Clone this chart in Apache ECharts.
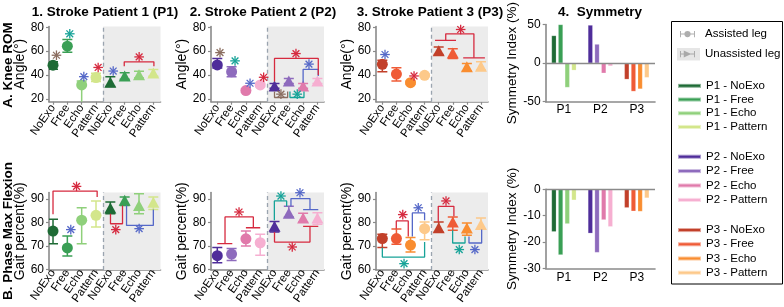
<!DOCTYPE html>
<html><head><meta charset="utf-8">
<script src="https://cdn.jsdelivr.net/npm/echarts@6/dist/echarts.min.js"></script>
<style>html,body{margin:0;padding:0;background:#fff}#c{width:784px;height:307px}</style>
</head><body><div id="c"></div>
<script>
// ---------- DATA ----------
const xLabels = ['NoExo','Free','Echo','Pattern','NoExo','Free','Echo','Pattern'];
const xPositions = [1,2,3,4,5,6,7,8];
const conditionSplit = 4.5;           // assisted | unassisted boundary
const patients = ['P1','P2','P3'];
const conditions = ['NoExo','Free','Echo','Pattern'];
const romTicks = [20,40,60,80];
const phaseTicks = [60,70,80,90];

// Knee ROM (deg): first 4 = assisted leg, last 4 = unassisted leg
const romP1Mean = [48.3, 64.2, 31.8, 38.0, 34.0, 39.3, 40.4, 41.8];
const romP1Low  = [44.8, 59.0, 10.0, 34.6, 30.4, 36.6, 37.6, 39.0];
const romP1High = [51.1, 69.8, 35.1, 41.5, 38.7, 42.0, 43.2, 44.6];
const romP2Mean = [48.5, 42.8, 27.1, 31.8, 31.0, 35.1, 31.0, 35.1];
const romP2Low  = [46.0, 38.7, 25.6, 30.3, 29.0, 33.0, 29.0, 33.0];
const romP2High = [53.9, 47.0, 28.6, 33.3, 33.0, 37.2, 33.0, 37.2];
const romP3Mean = [49.0, 40.9, 33.7, 39.8, 60.3, 58.5, 47.0, 47.5];
const romP3Low  = [42.8, 35.1, 32.5, 38.6, 57.2, 53.9, 43.7, 44.2];
const romP3High = [52.5, 46.1, 34.9, 41.0, 63.5, 62.1, 49.8, 51.1];

// Phase of max flexion (% gait)
const phP1Mean = [76.3, 69.1, 80.9, 83.0, 86.1, 89.4, 87.2, 88.6];
const phP1Low  = [70.9, 65.7, 70.9, 78.0, 83.7, 87.2, 83.7, 85.5];
const phP1High = [81.3, 74.2, 86.2, 89.1, 88.7, 90.8, 92.2, 90.8];
const phP2Mean = [65.8, 66.5, 73.0, 71.3, 78.3, 83.9, 81.8, 81.8];
const phP2Low  = [62.8, 63.7, 69.9, 66.0, 75.9, 82.3, 80.1, 79.2];
const phP2High = [69.3, 68.9, 76.3, 74.9, 80.4, 86.8, 83.9, 84.1];
const phP3Mean = [73.1, 73.1, 70.3, 77.3, 77.7, 80.1, 77.6, 79.1];
const phP3Low  = [69.3, 70.7, 67.4, 72.6, 75.9, 76.6, 74.5, 77.3];
const phP3High = [74.9, 77.2, 73.5, 80.1, 80.1, 82.3, 79.7, 81.8];

// Significance stars [x, y, colour] and brackets [colour, points]
const romP1Stars = [[1.24,56.6,'brown'],[2.17,74.5,'teal'],[3.15,38.7,'blue'],[4.15,46.4,'red'],[5.2,43.4,'blue'],[7.01,55.2,'red']];
const romP1Brackets = [['red',[[5.97,47.5],[5.97,51.1],[8.04,51.1],[8.04,47.5]]]];
const romP2Stars = [[1.19,58.8,'brown'],[2.24,51.9,'teal'],[3.29,33.2,'blue'],[4.24,38.2,'red'],[5.45,24.1,'brown'],[6.59,24.1,'teal'],[7.41,49.2,'blue'],[6.5,58,'red']];
const romP2Brackets = [
  ['brown',[[5,26.3],[5,21.3],[5.92,21.3],[5.92,26.3]]],
  ['teal',[[6.08,26.3],[6.08,21.3],[7.06,21.3],[7.06,26.3]]],
  ['blue',[[7,33.7],[7,44.8],[8.06,44.8],[8.06,39.3]]],
  ['red',[[5,34.6],[5,53.9],[8.06,53.9],[8.06,40]]]
];
const romP3Stars = [[1.19,57.2,'blue'],[3.25,39.3,'red'],[6.56,78.1,'red']];
const romP3Brackets = [
  ['red',[[4.74,69],[6.23,69]]],
  ['red',[[6.74,54.4],[8.28,54.4]]],
  ['red',[[5.5,69],[5.5,74.5],[7.5,74.5],[7.5,54.4]]]
];
const phP1Stars = [[2.64,95.3,'red'],[2.24,76.9,'blue'],[5.38,76.9,'red'],[7.01,77.3,'blue']];
const phP1Brackets = [
  ['red',[[1,83.4],[1,93.3],[4.08,93.3],[4.08,90.8]]],
  ['red',[[5.01,83.7],[5.01,79.4],[5.85,79.4],[5.85,87.2]]],
  ['blue',[[6.13,87.2],[6.13,78.7],[8,78.7],[8,85.5]]]
];
const phP2Stars = [[2.52,84.4,'red'],[5.45,91.2,'teal'],[6.78,92.6,'blue'],[6.24,69.5,'red']];
const phP2Brackets = [
  ['red',[[1,70.9],[2.05,70.9]]],
  ['red',[[1.54,70.9],[1.54,82.3],[3.52,82.3],[3.52,77.7]]],
  ['red',[[3,77.7],[4,77.7]]],
  ['teal',[[4.99,80.9],[4.99,89.1],[5.85,89.1],[5.85,86.8]]],
  ['blue',[[6.15,86.8],[6.15,90.1],[7.48,90.1],[7.48,85.4]]],
  ['blue',[[7,85.4],[8.06,85.4]]],
  ['red',[[5,75.9],[5,71.6],[7.48,71.6],[7.48,78.3]]],
  ['red',[[7,78.3],[8.06,78.3]]]
];
const phP3Stars = [[2.45,83.3,'red'],[3.55,86.2,'blue'],[2.54,62.4,'teal'],[5.52,89.1,'red'],[6.46,68.4,'teal'],[7.57,68.4,'blue']];
const phP3Brackets = [
  ['red',[[1.99,77.3],[1.99,80.6],[2.84,80.6],[2.84,74]]],
  ['blue',[[3.13,74],[3.13,84],[4,84],[4,80.9]]],
  ['teal',[[1,69.2],[1,65.2],[4,65.2],[4,71.6]]],
  ['red',[[4.97,80.1],[4.97,86.8],[6.08,86.8],[6.08,82.6]]],
  ['teal',[[5.99,76.6],[5.99,71.2],[6.87,71.2],[6.87,74]]],
  ['blue',[[7.15,74],[7.15,71.2],[8.05,71.2],[8.05,76.9]]]
];

// Symmetry index (%) per patient: NoExo, Free, Echo, Pattern
const symRomP1 = [35.7, 50.0, -31.5, -9.3];
const symRomP2 = [49.3, 24.6, -13.0, -3.8];
const symRomP3 = [-21.0, -36.6, -33.5, -18.7];
const symPhP1 = [-16.1, -24.9, -13.1, -4.1];
const symPhP2 = [-16.7, -24.0, -11.6, -14.2];
const symPhP3 = [-7.0, -8.3, -8.4, -3.3];

// ---------- STYLE ----------
const colorsP1 = ['#1e6b35','#3a9f55','#8fd07b','#d3e68b'];
const colorsP2 = ['#4f2d9a','#8e6bbd','#e07aab','#f6afd1'];
const colorsP3 = ['#c2402a','#ef5b36','#f98d30','#fdc98a'];
const patientColors = [colorsP1, colorsP2, colorsP3];
const starColors = {brown:'#8b6e60', teal:'#17a398', blue:'#5568c8', red:'#d62a3f'};
const FF = '"Liberation Sans", Arial, Helvetica, sans-serif';
const AX = '#8a8a8a';

const panels = [
  {grid:{left:49,top:26.5,width:111.5,height:75.2}, xmin:0.72,xmax:8.5,ymin:17.8,ymax:80.6,ticks:romTicks,name:'Angle(°)',nameGap:19,mean:romP1Mean,low:romP1Low,high:romP1High,colors:colorsP1,stars:romP1Stars,brackets:romP1Brackets},
  {grid:{left:211,top:26.5,width:113,height:75.2}, xmin:0.56,xmax:8.46,ymin:17.8,ymax:80.6,ticks:romTicks,name:'Angle(°)',nameGap:17,mean:romP2Mean,low:romP2Low,high:romP2High,colors:colorsP2,stars:romP2Stars,brackets:romP2Brackets},
  {grid:{left:376,top:26.5,width:112,height:75.2}, xmin:0.55,xmax:8.5,ymin:17.8,ymax:80.6,ticks:romTicks,name:'Angle(°)',nameGap:17,mean:romP3Mean,low:romP3Low,high:romP3High,colors:colorsP3,stars:romP3Stars,brackets:romP3Brackets},
  {grid:{left:49,top:192.5,width:111.5,height:77.5}, xmin:0.72,xmax:8.5,ymin:59.7,ymax:92.7,ticks:phaseTicks,name:'Gait percent(%)',nameGap:18,mean:phP1Mean,low:phP1Low,high:phP1High,colors:colorsP1,stars:phP1Stars,brackets:phP1Brackets},
  {grid:{left:211,top:192.5,width:113,height:77.5}, xmin:0.56,xmax:8.46,ymin:59.7,ymax:92.7,ticks:phaseTicks,name:'Gait percent(%)',nameGap:18,mean:phP2Mean,low:phP2Low,high:phP2High,colors:colorsP2,stars:phP2Stars,brackets:phP2Brackets},
  {grid:{left:376,top:192.5,width:112,height:77.5}, xmin:0.55,xmax:8.5,ymin:59.7,ymax:92.7,ticks:phaseTicks,name:'Gait percent(%)',nameGap:18,mean:phP3Mean,low:phP3Low,high:phP3High,colors:colorsP3,stars:phP3Stars,brackets:phP3Brackets}
];

const grids = [], xAxes = [], yAxes = [], series = [];
const axLine = {show:true, lineStyle:{color:AX, width:1.6}};
const lblStyle = {color:'#000', fontSize:12, fontFamily:FF};

panels.forEach((p, i) => {
  grids.push(p.grid);
  xAxes.push({type:'value', gridIndex:i, min:p.xmin, max:p.xmax, axisLine:Object.assign({onZero:false}, axLine),
    splitLine:{show:false},
    axisTick:{show:true, customValues:xPositions, length:3, lineStyle:{color:AX, width:1.2}},
    axisLabel:{show:false}});
  yAxes.push({type:'value', gridIndex:i, min:p.ymin, max:p.ymax, axisLine:axLine, splitLine:{show:false},
    axisTick:{show:true, customValues:p.ticks, length:3, lineStyle:{color:AX, width:1.2}},
    axisLabel:Object.assign({customValues:p.ticks, margin:5, showMinLabel:true, showMaxLabel:true}, lblStyle),
    name:p.name, nameLocation:'middle', nameGap:p.nameGap, nameTextStyle:{color:'#000', fontSize:14, fontFamily:FF}});
  // shaded unassisted region + dashed divider
  series.push({type:'line', xAxisIndex:i, yAxisIndex:i, data:[], z:1, silent:true,
    markArea:{silent:true, itemStyle:{color:'#ececec'}, data:[[{xAxis:conditionSplit},{xAxis:p.xmax}]]},
    markLine:{silent:true, symbol:['none','none'], label:{show:false}, lineStyle:{type:[4,3], color:'#9aa4af', width:1.3},
      data:[{xAxis:conditionSplit}]}});
  // error bars
  const cols = p.colors;
  series.push({type:'custom', xAxisIndex:i, yAxisIndex:i, z:3, clip:true, silent:true,
    data:xPositions.map((x,k)=>[x, p.low[k], p.high[k]]),
    renderItem:(params, api) => {
      const x = api.value(0);
      const a = api.coord([x, api.value(1)]), b = api.coord([x, api.value(2)]);
      const st = {stroke:cols[params.dataIndex % 4], lineWidth:1.5};
      const w = 5;
      return {type:'group', children:[
        {type:'line', shape:{x1:a[0],y1:a[1],x2:b[0],y2:b[1]}, style:st},
        {type:'line', shape:{x1:a[0]-w,y1:a[1],x2:a[0]+w,y2:a[1]}, style:st},
        {type:'line', shape:{x1:b[0]-w,y1:b[1],x2:b[0]+w,y2:b[1]}, style:st}
      ]};
    }});
  // markers
  series.push({type:'scatter', xAxisIndex:i, yAxisIndex:i, z:4, silent:true,
    data:xPositions.map((x,k)=>({value:[x, p.mean[k]], symbol:k<4?'circle':'triangle', symbolSize:k<4?11:[12,11],
      itemStyle:{color:cols[k % 4], opacity:1}}))});
  // brackets
  p.brackets.forEach(b => {
    series.push({type:'line', xAxisIndex:i, yAxisIndex:i, z:5, clip:false, silent:true, symbol:'none',
      data:b[1], lineStyle:{color:starColors[b[0]], width:1.3}});
  });
  // stars
  const stars = p.stars;
  series.push({type:'custom', xAxisIndex:i, yAxisIndex:i, z:6, clip:false, silent:true,
    data:stars.map(s=>[s[0], s[1]]),
    renderItem:(params, api) => {
      const c = api.coord([api.value(0), api.value(1)]);
      const col = starColors[stars[params.dataIndex][2]];
      const r = 4.8, ch = [];
      for (let k = 0; k < 4; k++) {
        const ang = k * Math.PI / 4, dx = r * Math.cos(ang), dy = r * Math.sin(ang);
        ch.push({type:'line', shape:{x1:c[0]-dx,y1:c[1]-dy,x2:c[0]+dx,y2:c[1]+dy}, style:{stroke:col, lineWidth:1.3}});
      }
      return {type:'group', children:ch};
    }});
});

// category label axes aligned with the condition positions (one per scatter panel)
panels.forEach((p, i) => {
  const s = p.grid.width / (p.xmax - p.xmin);
  const gi = grids.length;
  grids.push({left:p.grid.left + (0.5 - p.xmin) * s, top:p.grid.top, width:xPositions.length * s, height:p.grid.height});
  xAxes.push({type:'category', gridIndex:gi, data:xLabels, axisLine:{show:false}, axisTick:{show:false},
    axisLabel:{interval:0, rotate:55, margin:4, color:'#000', fontSize:11.5, fontFamily:FF}});
  yAxes.push({type:'value', gridIndex:gi, show:false});
});

// symmetry bar panels
const symPanels = [
  {grid:{left:545.7,top:23,width:109.3,height:78.7}, ymin:-50, ymax:50, interval:50, data:[symRomP1,symRomP2,symRomP3], key:'rom', margin:2},
  {grid:{left:545.7,top:189.3,width:109.3,height:79}, ymin:-30, ymax:0, interval:10, data:[symPhP1,symPhP2,symPhP3], key:'ph', margin:3}
];
symPanels.forEach((sp, j) => {
  const idx = grids.length;
  grids.push(sp.grid);
  xAxes.push({type:'category', gridIndex:idx, data:patients, axisLine:Object.assign({onZero:false}, axLine),
    axisTick:{show:false}, axisLabel:Object.assign({margin:sp.margin}, lblStyle)});
  yAxes.push({type:'value', gridIndex:idx, min:sp.ymin, max:sp.ymax, interval:sp.interval, axisLine:axLine,
    splitLine:{show:false}, axisTick:{show:true, length:3, lineStyle:{color:AX, width:1.2}},
    axisLabel:Object.assign({margin:5, showMinLabel:true, showMaxLabel:true}, lblStyle),
    name:'Symmetry Index (%)', nameLocation:'middle', nameGap:24, nameTextStyle:{color:'#000', fontSize:13.5, fontFamily:FF}});
  let first = true;
  patients.forEach((pt, pi) => {
    conditions.forEach((cd, ci) => {
      const s = {type:'bar', name:pt + ' - ' + cd, xAxisIndex:idx, yAxisIndex:idx, stack:sp.key + cd,
        barWidth:4.7, barGap:'42%', silent:true, z:3,
        itemStyle:{color:patientColors[pi][ci], borderColor:'rgba(255,255,255,0.5)', borderWidth:0.4},
        data:patients.map((_, k) => k === pi ? sp.data[pi][ci] : '-')};
      if (first) {
        s.markLine = {silent:true, symbol:['none','none'], label:{show:false}, lineStyle:{type:'solid', color:AX, width:1.4},
          data:[{yAxis:0}]};
        first = false;
      }
      series.push(s);
    });
  });
});

// legend marker-type entries
const assistedIcon = 'path://M0,1h1.5v10h-1.5z M22.5,1h1.5v10h-1.5z M0,5.25h24v1.5h-24z M7,6a5,5 0 1,1 10,0a5,5 0 1,1 -10,0z';
const unassistedIcon = 'path://M0,1h1.5v10h-1.5z M22.5,1h1.5v10h-1.5z M0,5.25h24v1.5h-24z M6,0.5L18,6L6,11.5z';
series.push({type:'scatter', name:'Assisted leg', xAxisIndex:0, yAxisIndex:0, data:[], itemStyle:{color:'#9a9a9a'}});
series.push({type:'scatter', name:'Unassisted leg', xAxisIndex:0, yAxisIndex:0, data:[], itemStyle:{color:'#9a9a9a'}});

const legendText = {color:'#000', fontSize:11.5, fontFamily:FF};
const legends = [
  {data:[{name:'Assisted leg', icon:assistedIcon},{name:'Unassisted leg', icon:unassistedIcon}], left:680, top:27.5,
    itemWidth:15, itemHeight:10, itemGap:7, textStyle:Object.assign({lineHeight:13, padding:[0,0,0,5]}, legendText)},
  {data:conditions.map(c=>'P1 - ' + c), left:677, top:79, itemWidth:23, itemHeight:4, itemGap:0, icon:'rect',
    textStyle:Object.assign({lineHeight:13.7}, legendText)},
  {data:conditions.map(c=>'P2 - ' + c), left:677, top:149.5, itemWidth:23, itemHeight:4, itemGap:0, icon:'rect',
    textStyle:Object.assign({lineHeight:14.4}, legendText)},
  {data:conditions.map(c=>'P3 - ' + c), left:677, top:223, itemWidth:23, itemHeight:4, itemGap:0, icon:'rect',
    textStyle:Object.assign({lineHeight:14.2}, legendText)}
].map(l => Object.assign({orient:'vertical', padding:0, selectedMode:false}, l));

const titleStyle = {color:'#000', fontSize:13.5, fontWeight:'bold', fontFamily:FF};
const option = {
  animation:false,
  title:[
    {text:'1. Stroke Patient 1 (P1)', left:105, top:5, textAlign:'center', padding:0, textStyle:titleStyle},
    {text:'2. Stroke Patient 2 (P2)', left:263, top:5, textAlign:'center', padding:0, textStyle:titleStyle},
    {text:'3. Stroke Patient 3 (P3)', left:430, top:5, textAlign:'center', padding:0, textStyle:titleStyle},
    {text:'4.  Symmetry', left:600, top:5, textAlign:'center', padding:0, textStyle:titleStyle}
  ],
  grid:grids, xAxis:xAxes, yAxis:yAxes, series:series, legend:legends,
  graphic:[
    {type:'rect', silent:true, z:0, shape:{x:671.5, y:21.5, width:111, height:262.5}, style:{fill:'none', stroke:'#000', lineWidth:1}},
    {type:'rect', silent:true, z:0, shape:{x:677, y:48, width:23, height:12.5}, style:{fill:'#e6e6e6'}},
    {type:'text', silent:true, x:8, y:65, rotation:Math.PI/2,
      style:{text:'A. Knee ROM', font:'bold 13.5px ' + FF, fill:'#000', align:'center', verticalAlign:'middle', textAlign:'center', textVerticalAlign:'middle'}},
    {type:'text', silent:true, x:8, y:231, rotation:Math.PI/2,
      style:{text:'B. Phase Max Flexion', font:'bold 13.5px ' + FF, fill:'#000', align:'center', verticalAlign:'middle', textAlign:'center', textVerticalAlign:'middle'}}
  ]
};
const chart = echarts.init(document.getElementById('c'), null, {renderer:'canvas'});
chart.setOption(option);
</script></body></html>
